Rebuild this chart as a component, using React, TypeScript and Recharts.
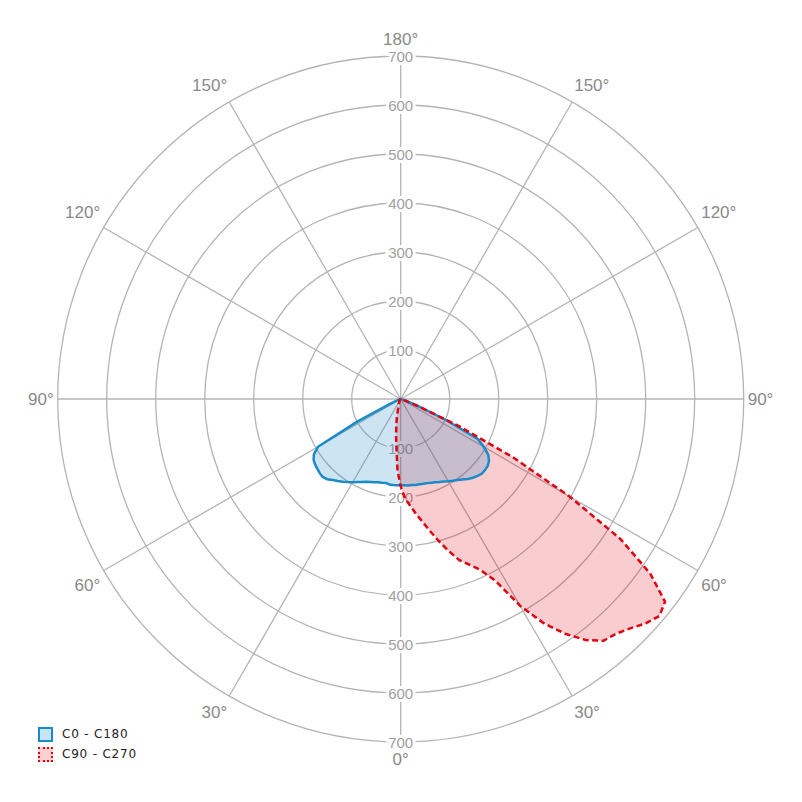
import React from 'react';
import { RadarChart, Radar, PolarGrid, PolarAngleAxis, PolarRadiusAxis } from 'recharts';

// gamma angle (deg): negative = left half, positive = right half, 0 = straight down
const gammaAngles = [
  -90, -87.5, -85, -82.5, -80, -77.5, -75, -72.5, -70, -67.5,
  -65, -62.5, -60, -57.5, -55, -52.5, -50, -47.5, -45, -42.5,
  -40, -37.5, -35, -32.5, -30, -27.5, -25, -22.5, -20, -17.5,
  -15, -12.5, -10, -7.5, -5, -2.5, 0, 2.5, 5, 7.5,
  10, 12.5, 15, 17.5, 20, 22.5, 25, 27.5, 30, 32.5,
  35, 37.5, 40, 42.5, 45, 47.5, 50, 52.5, 55, 57.5,
  60, 62.5, 65, 67.5, 70, 72.5, 75, 77.5, 80, 82.5,
  85, 87.5, 90,
];

// C0 - C180 intensity (cd/klm)
const c0c180 = [
  0, 0, 0, 0, 0, 1, 2, 3, 5, 10,
  25, 100, 195, 210, 217, 220, 222, 224, 225, 222,
  216, 211, 206, 201, 196, 191, 187, 183, 180, 178,
  176, 175, 174, 176, 176, 176, 176, 176, 177, 177,
  178, 178, 179, 180, 182, 184, 187, 190, 194, 198,
  202, 207, 213, 218, 222, 225, 225, 224, 220, 212,
  196, 178, 105, 40, 12, 6, 3, 1, 0, 0,
  0, 0, 0,
];

// C90 - C270 intensity (cd/klm)
const c90c270 = [
  0, 0, 0, 0, 0, 0, 0, 0, 0, 0,
  0, 0, 0, 1, 1, 1, 2, 2, 2, 3,
  3, 3, 4, 5, 5, 6, 8, 10, 12, 15,
  20, 35, 50, 73, 100, 147, 178, 203, 218, 236,
  254, 276, 300, 325, 350, 366, 385, 418, 487, 542,
  585, 620, 644, 650, 662, 678, 689, 680, 622, 532,
  398, 260, 130, 42, 12, 5, 3, 1, 0, 0,
  0, 0, 0,
];

const angleTicks = [-150, -120, -90, -60, -30, 0, 30, 60, 90, 120, 150, 180];
const radiusTicks = [100, 200, 300, 400, 500, 600, 700];

const seriesNames = ['C0 - C180', 'C90 - C270'];

const tableData = gammaAngles.map((a, i) => ({
  angle: a,
  c0: c0c180[i],
  c90: c90c270[i],
}));

const BLUE = '#1a8ac8';
const RED = '#e3000f';
const CX = 392.7;
const CY = 391;

const AngleTick = (props: any) => {
  const { x, y, payload } = props;
  const v = Number(payload.value);
  const a = ((v - 90) * Math.PI) / 180;
  const c = Math.cos(a);
  const s = Math.sin(a);
  const anchor = Math.abs(c) < 0.01 ? 'middle' : c > 0 ? 'start' : 'end';
  const dy = s > 0.01 ? -13 : s < -0.01 ? 13 : 0;
  return (
    <text
      x={x}
      y={y + dy}
      textAnchor={anchor}
      dominantBaseline="central"
      fontFamily="'Liberation Sans', Arial, sans-serif"
      fontSize={17}
      fill="#8a8a8a"
    >
      {`${Math.abs(v)}°`}
    </text>
  );
};

const labelStyle = {
  fontFamily: "'Liberation Sans', Arial, sans-serif",
  fontSize: 15,
  fill: '#a0a0a0',
  stroke: '#ffffff',
  strokeWidth: 6,
  paintOrder: 'stroke' as const,
};

const RadiusTick = (props: any) => {
  const { x, y, payload } = props;
  const cx = typeof props.cx === 'number' ? props.cx : CX;
  const cy = typeof props.cy === 'number' ? props.cy : CY;
  return (
    <g>
      <text x={x} y={y} textAnchor="middle" dominantBaseline="central" {...labelStyle}>
        {payload.value}
      </text>
      <text
        x={2 * cx - x}
        y={2 * cy - y}
        textAnchor="middle"
        dominantBaseline="central"
        {...labelStyle}
      >
        {payload.value}
      </text>
    </g>
  );
};

export default function App() {
  return (
    <div style={{ position: 'relative', width: 786, height: 786, background: '#fff' }}>
      <RadarChart
        width={786}
        height={786}
        cx={CX}
        cy={CY}
        outerRadius={343}
        startAngle={-270}
        endAngle={90}
        data={tableData}
        margin={{ top: 0, right: 0, bottom: 0, left: 0 }}
      >
        <PolarGrid gridType="circle" stroke="#b4b4b4" strokeWidth={1.3} />
        <PolarAngleAxis
          dataKey="angle"
          type="number"
          domain={[-180, 180]}
          ticks={angleTicks}
          tick={AngleTick}
          tickSize={4}
          tickLine={false}
          axisLine={false}
        />
        <PolarRadiusAxis
          angle={90}
          domain={[0, 700]}
          ticks={radiusTicks}
          tick={RadiusTick}
          axisLine={false}
          tickLine={false}
          {...({ zIndex: 50 } as any)}
        />
        <Radar
          name={seriesNames[1]}
          dataKey="c90"
          stroke="none"
          fill={RED}
          fillOpacity={0.2}
          isAnimationActive={false}
          {...({ zIndex: 600 } as any)}
        />
        <Radar
          name={seriesNames[0]}
          dataKey="c0"
          stroke={BLUE}
          strokeWidth={2.5}
          fill={BLUE}
          fillOpacity={0.22}
          isAnimationActive={false}
          {...({ zIndex: 601 } as any)}
        />
        <Radar
          name={seriesNames[1]}
          dataKey="c90"
          stroke={RED}
          strokeWidth={2.5}
          strokeDasharray="6 3.5"
          fill="none"
          fillOpacity={0}
          isAnimationActive={false}
          {...({ zIndex: 602 } as any)}
        />
      </RadarChart>
      <div
        style={{
          position: 'absolute',
          left: 30,
          top: 716,
          fontFamily: "'DejaVu Sans', Verdana, sans-serif",
          fontSize: 12,
          letterSpacing: 0.8,
          color: '#222',
          lineHeight: '20px',
        }}
      >
        <div style={{ display: 'flex', alignItems: 'center', height: 20 }}>
          <span
            style={{
              display: 'inline-block',
              width: 11,
              height: 11,
              border: `2px solid ${BLUE}`,
              background: '#c8e4f3',
              marginRight: 9,
            }}
          />
          <span>{seriesNames[0]}</span>
        </div>
        <div style={{ display: 'flex', alignItems: 'center', height: 20 }}>
          <span
            style={{
              display: 'inline-block',
              width: 11,
              height: 11,
              border: `2px dotted ${RED}`,
              background: '#ffd0d0',
              marginRight: 9,
            }}
          />
          <span>{seriesNames[1]}</span>
        </div>
      </div>
    </div>
  );
}
